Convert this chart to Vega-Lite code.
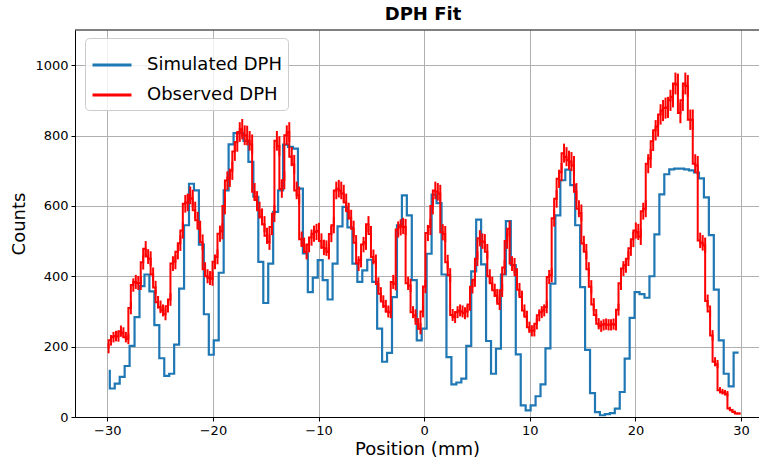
{
"$schema": "https://vega.github.io/schema/vega-lite/v6.json",
"width": 684,
"height": 387,
"autosize": {"type": "none"},
"padding": {"left": 75, "top": 30, "right": 0, "bottom": 42},
"background": "white",
"title": {"text": "DPH Fit", "fontSize": 18, "fontWeight": "bold", "font": "DejaVu Sans", "color": "black", "dx": 6, "offset": 6},
"config": {
  "font": "DejaVu Sans",
  "view": {"stroke": null},
  "axis": {"domainColor": "black", "domainWidth": 1, "tickColor": "black", "tickWidth": 1, "tickSize": 4, "labelFontSize": 13, "labelColor": "black", "labelFont": "DejaVu Sans", "titleFont": "DejaVu Sans", "titleFontSize": 18, "titleFontWeight": "normal", "titleColor": "black", "gridColor": "#b0b0b0", "gridWidth": 1, "labelPadding": 3}
},
"datasets": {
"sim": [
{"x":-29.766,"y":134},{"x":-29.297,"y":81},{"x":-28.828,"y":95},{"x":-28.359,"y":114},{"x":-27.891,"y":145},{"x":-27.422,"y":202},{"x":-26.953,"y":284},{"x":-26.484,"y":372},{"x":-26.016,"y":405},{"x":-25.547,"y":357},
{"x":-25.078,"y":261},{"x":-24.609,"y":167},{"x":-24.141,"y":117},{"x":-23.672,"y":123},{"x":-23.203,"y":206},{"x":-22.734,"y":365},{"x":-22.266,"y":545},{"x":-21.797,"y":663},{"x":-21.328,"y":644},{"x":-20.859,"y":490},
{"x":-20.391,"y":292},{"x":-19.922,"y":177},{"x":-19.453,"y":218},{"x":-18.984,"y":410},{"x":-18.516,"y":644},{"x":-18.047,"y":775},{"x":-17.578,"y":807},{"x":-17.109,"y":807},{"x":-16.641,"y":785},{"x":-16.172,"y":725},
{"x":-15.703,"y":626},{"x":-15.234,"y":441},{"x":-14.766,"y":324},{"x":-14.297,"y":436},{"x":-13.828,"y":583},{"x":-13.359,"y":644},{"x":-12.891,"y":774},{"x":-12.422,"y":768},{"x":-11.953,"y":763},{"x":-11.484,"y":649},
{"x":-11.016,"y":465},{"x":-10.547,"y":355},{"x":-10.078,"y":396},{"x":-9.609,"y":446},{"x":-9.141,"y":389},{"x":-8.672,"y":334},{"x":-8.203,"y":436},{"x":-7.734,"y":542},{"x":-7.266,"y":597},{"x":-6.797,"y":539},
{"x":-6.328,"y":436},{"x":-5.859,"y":384},{"x":-5.391,"y":417},{"x":-4.922,"y":447},{"x":-4.453,"y":384},{"x":-3.984,"y":251},{"x":-3.516,"y":157},{"x":-3.047,"y":182},{"x":-2.578,"y":341},{"x":-2.109,"y":545},
{"x":-1.641,"y":630},{"x":-1.172,"y":573},{"x":-0.703,"y":389},{"x":-0.234,"y":218},{"x":0.234,"y":251},{"x":0.703,"y":464},{"x":1.172,"y":632},{"x":1.641,"y":608},{"x":2.109,"y":405},{"x":2.578,"y":170},
{"x":3.047,"y":93},{"x":3.516,"y":98},{"x":3.984,"y":109},{"x":4.453,"y":202},{"x":4.922,"y":414},{"x":5.391,"y":561},{"x":5.859,"y":434},{"x":6.328,"y":216},{"x":6.797,"y":123},{"x":7.266,"y":194},
{"x":7.734,"y":405},{"x":8.203,"y":557},{"x":8.672,"y":432},{"x":9.141,"y":178},{"x":9.609,"y":33},{"x":10.078,"y":19},{"x":10.547,"y":33},{"x":11.016,"y":59},{"x":11.484,"y":93},{"x":11.953,"y":195},
{"x":12.422,"y":379},{"x":12.891,"y":573},{"x":13.359,"y":673},{"x":13.828,"y":703},{"x":14.297,"y":659},{"x":14.766,"y":545},{"x":15.234,"y":369},{"x":15.703,"y":191},{"x":16.172,"y":68},{"x":16.641,"y":14},
{"x":17.109,"y":5},{"x":17.578,"y":8},{"x":18.047,"y":11},{"x":18.516,"y":24},{"x":18.984,"y":71},{"x":19.453,"y":166},{"x":19.922,"y":282},{"x":20.391,"y":355},{"x":20.859,"y":349},{"x":21.328,"y":339},
{"x":21.797,"y":400},{"x":22.266,"y":519},{"x":22.734,"y":633},{"x":23.203,"y":690},{"x":23.672,"y":704},{"x":24.141,"y":706},{"x":24.609,"y":706},{"x":25.078,"y":704},{"x":25.547,"y":701},{"x":26.016,"y":695},
{"x":26.484,"y":678},{"x":26.953,"y":624},{"x":27.422,"y":517},{"x":27.891,"y":362},{"x":28.359,"y":218},{"x":28.828,"y":123},{"x":29.297,"y":87},{"x":29.766,"y":183}
],
"obs": [
{"x":-29.883,"y":195,"e":14},{"x":-29.648,"y":218,"e":15},{"x":-29.414,"y":227,"e":15},{"x":-29.180,"y":230,"e":15},{"x":-28.945,"y":229,"e":15},{"x":-28.711,"y":244,"e":16},{"x":-28.477,"y":240,"e":15},{"x":-28.242,"y":227,"e":15},
{"x":-28.008,"y":222,"e":15},{"x":-27.773,"y":310,"e":18},{"x":-27.539,"y":375,"e":19},{"x":-27.305,"y":384,"e":20},{"x":-27.070,"y":381,"e":20},{"x":-26.836,"y":380,"e":19},{"x":-26.602,"y":440,"e":21},{"x":-26.367,"y":478,"e":22},
{"x":-26.133,"y":456,"e":21},{"x":-25.898,"y":450,"e":21},{"x":-25.664,"y":405,"e":20},{"x":-25.430,"y":368,"e":19},{"x":-25.195,"y":326,"e":18},{"x":-24.961,"y":313,"e":18},{"x":-24.727,"y":303,"e":17},{"x":-24.492,"y":292,"e":17},
{"x":-24.258,"y":315,"e":18},{"x":-24.023,"y":334,"e":18},{"x":-23.789,"y":436,"e":21},{"x":-23.555,"y":441,"e":21},{"x":-23.320,"y":470,"e":22},{"x":-23.086,"y":494,"e":22},{"x":-22.852,"y":530,"e":23},{"x":-22.617,"y":606,"e":25},
{"x":-22.383,"y":610,"e":25},{"x":-22.148,"y":630,"e":25},{"x":-21.914,"y":621,"e":25},{"x":-21.680,"y":588,"e":24},{"x":-21.445,"y":559,"e":24},{"x":-21.211,"y":535,"e":23},{"x":-20.977,"y":497,"e":22},{"x":-20.742,"y":420,"e":20},
{"x":-20.508,"y":400,"e":20},{"x":-20.273,"y":395,"e":20},{"x":-20.039,"y":393,"e":20},{"x":-19.805,"y":441,"e":21},{"x":-19.570,"y":455,"e":21},{"x":-19.336,"y":521,"e":23},{"x":-19.102,"y":528,"e":23},{"x":-18.867,"y":600,"e":24},
{"x":-18.633,"y":672,"e":26},{"x":-18.398,"y":680,"e":26},{"x":-18.164,"y":700,"e":26},{"x":-17.930,"y":755,"e":27},{"x":-17.695,"y":782,"e":28},{"x":-17.461,"y":810,"e":28},{"x":-17.227,"y":818,"e":29},{"x":-16.992,"y":801,"e":28},
{"x":-16.758,"y":800,"e":28},{"x":-16.523,"y":785,"e":28},{"x":-16.289,"y":775,"e":28},{"x":-16.055,"y":640,"e":25},{"x":-15.820,"y":617,"e":25},{"x":-15.586,"y":588,"e":24},{"x":-15.352,"y":569,"e":24},{"x":-15.117,"y":548,"e":23},
{"x":-14.883,"y":515,"e":23},{"x":-14.648,"y":497,"e":22},{"x":-14.414,"y":540,"e":23},{"x":-14.180,"y":578,"e":24},{"x":-13.945,"y":785,"e":28},{"x":-13.711,"y":770,"e":28},{"x":-13.477,"y":648,"e":25},{"x":-13.242,"y":673,"e":26},
{"x":-13.008,"y":801,"e":28},{"x":-12.773,"y":810,"e":28},{"x":-12.539,"y":740,"e":27},{"x":-12.305,"y":718,"e":27},{"x":-12.070,"y":644,"e":25},{"x":-11.836,"y":630,"e":25},{"x":-11.602,"y":505,"e":22},{"x":-11.367,"y":488,"e":22},
{"x":-11.133,"y":470,"e":22},{"x":-10.898,"y":490,"e":22},{"x":-10.664,"y":510,"e":23},{"x":-10.430,"y":521,"e":23},{"x":-10.195,"y":526,"e":23},{"x":-9.961,"y":529,"e":23},{"x":-9.727,"y":500,"e":22},{"x":-9.492,"y":482,"e":22},
{"x":-9.258,"y":480,"e":22},{"x":-9.023,"y":470,"e":22},{"x":-8.789,"y":520,"e":23},{"x":-8.555,"y":545,"e":23},{"x":-8.320,"y":644,"e":25},{"x":-8.086,"y":649,"e":25},{"x":-7.852,"y":644,"e":25},{"x":-7.617,"y":635,"e":25},
{"x":-7.383,"y":610,"e":25},{"x":-7.148,"y":585,"e":24},{"x":-6.914,"y":565,"e":24},{"x":-6.680,"y":535,"e":23},{"x":-6.445,"y":495,"e":22},{"x":-6.211,"y":436,"e":21},{"x":-5.977,"y":446,"e":21},{"x":-5.742,"y":490,"e":22},
{"x":-5.508,"y":497,"e":22},{"x":-5.273,"y":548,"e":23},{"x":-5.039,"y":520,"e":23},{"x":-4.805,"y":455,"e":21},{"x":-4.570,"y":441,"e":21},{"x":-4.336,"y":378,"e":19},{"x":-4.102,"y":350,"e":19},{"x":-3.867,"y":328,"e":18},
{"x":-3.633,"y":315,"e":18},{"x":-3.398,"y":300,"e":17},{"x":-3.164,"y":298,"e":17},{"x":-2.930,"y":384,"e":20},{"x":-2.695,"y":379,"e":19},{"x":-2.461,"y":533,"e":23},{"x":-2.227,"y":539,"e":23},{"x":-1.992,"y":543,"e":23},
{"x":-1.758,"y":540,"e":23},{"x":-1.523,"y":380,"e":19},{"x":-1.289,"y":374,"e":19},{"x":-1.055,"y":298,"e":17},{"x":-0.820,"y":289,"e":17},{"x":-0.586,"y":265,"e":16},{"x":-0.352,"y":251,"e":16},{"x":-0.117,"y":300,"e":17},
{"x":0.117,"y":371,"e":19},{"x":0.352,"y":523,"e":23},{"x":0.586,"y":540,"e":23},{"x":0.820,"y":600,"e":24},{"x":1.055,"y":644,"e":25},{"x":1.289,"y":640,"e":25},{"x":1.523,"y":635,"e":25},{"x":1.758,"y":525,"e":23},
{"x":1.992,"y":520,"e":23},{"x":2.227,"y":440,"e":21},{"x":2.461,"y":403,"e":20},{"x":2.695,"y":290,"e":17},{"x":2.930,"y":284,"e":17},{"x":3.164,"y":298,"e":17},{"x":3.398,"y":303,"e":17},{"x":3.633,"y":300,"e":17},
{"x":3.867,"y":295,"e":17},{"x":4.102,"y":300,"e":17},{"x":4.336,"y":320,"e":18},{"x":4.570,"y":370,"e":19},{"x":4.805,"y":390,"e":20},{"x":5.039,"y":450,"e":21},{"x":5.273,"y":508,"e":23},{"x":5.508,"y":500,"e":22},
{"x":5.742,"y":498,"e":22},{"x":5.977,"y":470,"e":22},{"x":6.211,"y":400,"e":20},{"x":6.445,"y":380,"e":19},{"x":6.680,"y":360,"e":19},{"x":6.914,"y":345,"e":19},{"x":7.148,"y":322,"e":18},{"x":7.383,"y":360,"e":19},
{"x":7.617,"y":425,"e":21},{"x":7.852,"y":500,"e":22},{"x":8.086,"y":535,"e":23},{"x":8.320,"y":436,"e":21},{"x":8.555,"y":431,"e":21},{"x":8.789,"y":403,"e":20},{"x":9.023,"y":362,"e":19},{"x":9.258,"y":341,"e":18},
{"x":9.492,"y":303,"e":17},{"x":9.727,"y":285,"e":17},{"x":9.961,"y":255,"e":16},{"x":10.195,"y":245,"e":16},{"x":10.430,"y":245,"e":16},{"x":10.664,"y":265,"e":16},{"x":10.898,"y":289,"e":17},{"x":11.133,"y":298,"e":17},
{"x":11.367,"y":303,"e":17},{"x":11.602,"y":313,"e":18},{"x":11.836,"y":398,"e":20},{"x":12.070,"y":403,"e":20},{"x":12.305,"y":565,"e":24},{"x":12.539,"y":620,"e":25},{"x":12.773,"y":677,"e":26},{"x":13.008,"y":696,"e":26},
{"x":13.242,"y":750,"e":27},{"x":13.477,"y":740,"e":27},{"x":13.711,"y":730,"e":27},{"x":13.945,"y":726,"e":27},{"x":14.180,"y":715,"e":27},{"x":14.414,"y":640,"e":25},{"x":14.648,"y":592,"e":24},{"x":14.883,"y":580,"e":24},
{"x":15.117,"y":493,"e":22},{"x":15.352,"y":470,"e":22},{"x":15.586,"y":420,"e":20},{"x":15.820,"y":370,"e":19},{"x":16.055,"y":320,"e":18},{"x":16.289,"y":290,"e":17},{"x":16.523,"y":265,"e":16},{"x":16.758,"y":258,"e":16},
{"x":16.992,"y":262,"e":16},{"x":17.227,"y":264,"e":16},{"x":17.461,"y":262,"e":16},{"x":17.695,"y":262,"e":16},{"x":17.930,"y":264,"e":16},{"x":18.164,"y":262,"e":16},{"x":18.398,"y":305,"e":17},{"x":18.633,"y":380,"e":19},
{"x":18.867,"y":422,"e":21},{"x":19.102,"y":431,"e":21},{"x":19.336,"y":450,"e":21},{"x":19.570,"y":480,"e":22},{"x":19.805,"y":505,"e":22},{"x":20.039,"y":530,"e":23},{"x":20.273,"y":526,"e":23},{"x":20.508,"y":512,"e":23},
{"x":20.742,"y":585,"e":24},{"x":20.977,"y":592,"e":24},{"x":21.211,"y":720,"e":27},{"x":21.445,"y":735,"e":27},{"x":21.680,"y":784,"e":28},{"x":21.914,"y":815,"e":29},{"x":22.148,"y":826,"e":29},{"x":22.383,"y":860,"e":29},
{"x":22.617,"y":871,"e":30},{"x":22.852,"y":878,"e":30},{"x":23.086,"y":880,"e":30},{"x":23.320,"y":900,"e":30},{"x":23.555,"y":910,"e":30},{"x":23.789,"y":948,"e":31},{"x":24.023,"y":945,"e":31},{"x":24.258,"y":864,"e":29},
{"x":24.492,"y":900,"e":30},{"x":24.727,"y":948,"e":31},{"x":24.961,"y":941,"e":31},{"x":25.195,"y":845,"e":29},{"x":25.430,"y":845,"e":29},{"x":25.664,"y":720,"e":27},{"x":25.898,"y":715,"e":27},{"x":26.133,"y":502,"e":22},
{"x":26.367,"y":495,"e":22},{"x":26.602,"y":488,"e":22},{"x":26.836,"y":330,"e":18},{"x":27.070,"y":300,"e":17},{"x":27.305,"y":232,"e":15},{"x":27.539,"y":157,"e":13},{"x":27.773,"y":150,"e":12},{"x":28.008,"y":76,"e":9},
{"x":28.242,"y":72,"e":8},{"x":28.477,"y":69,"e":8},{"x":28.711,"y":66,"e":8},{"x":28.945,"y":24,"e":5},{"x":29.180,"y":19,"e":4},{"x":29.414,"y":14,"e":4},{"x":29.648,"y":10,"e":3},{"x":29.883,"y":10,"e":3}
]
},
"layer": [
  {
    "data": {"name": "sim"},
    "mark": {"type": "line", "interpolate": "step-before", "strokeWidth": 2.2, "clip": true},
    "encoding": {
      "x": {"field": "x", "type": "quantitative", "title": "Position (mm)", "scale": {"domain": [-33.06, 31.7], "nice": false, "zero": false},
            "axis": {"values": [-30, -20, -10, 0, 10, 20, 30], "title": "Position (mm)", "titlePadding": 3, "grid": true}},
      "y": {"field": "y", "type": "quantitative", "title": "Counts", "scale": {"domain": [0, 1100], "nice": false},
            "axis": {"values": [0, 200, 400, 600, 800, 1000], "format": "d", "title": "Counts", "titlePadding": 6, "grid": true}},
      "color": {"datum": "Simulated DPH", "type": "nominal",
                "scale": {"domain": ["Simulated DPH", "Observed DPH"], "range": ["#1f77b4", "#ff0000"]},
                "legend": {"title": null, "orient": "none", "legendX": 10, "legendY": 8, "symbolType": "stroke", "symbolSize": 1521, "symbolStrokeWidth": 3, "labelFontSize": 18, "labelFont": "DejaVu Sans", "labelColor": "black", "labelOffset": 14, "padding": 6, "rowPadding": -11, "fillColor": "rgba(255,255,255,0.8)", "strokeColor": "#cccccc", "cornerRadius": 4}}
    }
  },
  {
    "data": {"name": "obs"},
    "mark": {"type": "line", "interpolate": "step-before", "strokeWidth": 2, "clip": true},
    "encoding": {
      "x": {"field": "x", "type": "quantitative", "title": "Position (mm)"},
      "y": {"field": "y", "type": "quantitative", "title": "Counts"},
      "color": {"datum": "Observed DPH", "type": "nominal"}
    }
  },
  {
    "data": {"name": "obs"},
    "mark": {"type": "errorbar", "ticks": false, "thickness": 2, "color": "#ff0000"},
    "encoding": {
      "x": {"field": "x", "type": "quantitative", "title": "Position (mm)"},
      "y": {"field": "y", "type": "quantitative", "title": "Counts"},
      "yError": {"field": "e"}
    }
  },
  {
    "data": {"values": [{}]},
    "mark": {"type": "rule", "color": "black", "strokeWidth": 1},
    "encoding": {"y": {"datum": 1100}}
  }
]
}
